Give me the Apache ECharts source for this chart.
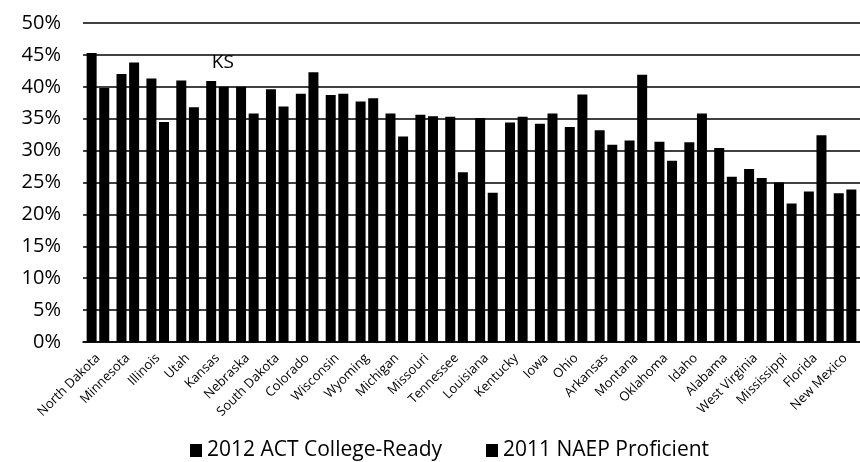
<!DOCTYPE html>
<html>
<head>
<meta charset="utf-8">
<script src="https://cdn.jsdelivr.net/npm/echarts@6/dist/echarts.min.js"></script>
<style>html,body{margin:0;padding:0;background:#fff;}#c{width:860px;height:462px;}</style>
</head>
<body>
<div id="c"></div>
<script>
const states = ["North Dakota","Minnesota","Illinois","Utah","Kansas","Nebraska","South Dakota","Colorado","Wisconsin","Wyoming","Michigan","Missouri","Tennessee","Louisiana","Kentucky","Iowa","Ohio","Arkansas","Montana","Oklahoma","Idaho","Alabama","West Virginia","Mississippi","Florida","New Mexico"];
const act2012 = [45.3,42.0,41.3,41.0,40.9,40.0,39.6,38.9,38.7,37.7,35.8,35.6,35.3,35.1,34.4,34.2,33.7,33.2,31.6,31.4,31.3,30.4,27.1,25.0,23.6,23.3];
const naep2011 = [39.8,43.8,34.5,36.8,40.0,35.8,36.9,42.3,38.9,38.2,32.2,35.4,26.6,23.4,35.3,35.8,38.8,30.9,41.9,28.4,35.8,25.9,25.7,21.7,32.4,23.9];
const yTicks = [0,5,10,15,20,25,30,35,40,45,50];
const seriesNames = ["2012 ACT College-Ready","2011 NAEP Proficient"];
const annotationState = "Kansas";
const annotationText = "KS";

const font = "'Open Sans', 'Noto Sans', sans-serif";
const chart = echarts.init(document.getElementById('c'), null, {renderer:'canvas'});

const naepData = naep2011.map((v,i) => states[i] === annotationState ? {
  value: v,
  label: {show:true, position:'top', distance:15, offset:[-1,0], formatter: annotationText,
          color:'#000', fontSize:19, fontFamily:font}
} : v);

chart.setOption({
  animation:false,
  backgroundColor:'#fff',
  grid:{left:83, top:23, width:780, bottom:120, containLabel:false},
  legend:{
    data:seriesNames, top:435, left:185,
    itemWidth:12, itemHeight:13, itemGap:44, icon:'rect',
    textStyle:{fontSize:21, color:'#000', fontFamily:font}
  },
  xAxis:{
    type:'category', data:states,
    axisLine:{show:true, lineStyle:{color:'#000', width:1.5}},
    axisTick:{show:false},
    axisLabel:{rotate:45, fontSize:13, color:'#000', fontFamily:font, margin:14, interval:0}
  },
  yAxis:{
    type:'value', min:0, max:50, interval:5,
    axisLine:{show:false}, axisTick:{show:false},
    axisLabel:{formatter: v => yTicks.includes(v) ? v + '%' : '', fontSize:20, color:'#000', fontFamily:font, margin:22},
    splitLine:{lineStyle:{color:'#000', width:1.5}}
  },
  series:[
    {name:seriesNames[0], type:'bar', data:act2012, barWidth:10, barGap:'26%', itemStyle:{color:'#000'}},
    {name:seriesNames[1], type:'bar', data:naepData, barWidth:10, itemStyle:{color:'#000'}}
  ]
});
</script>
</body>
</html>
